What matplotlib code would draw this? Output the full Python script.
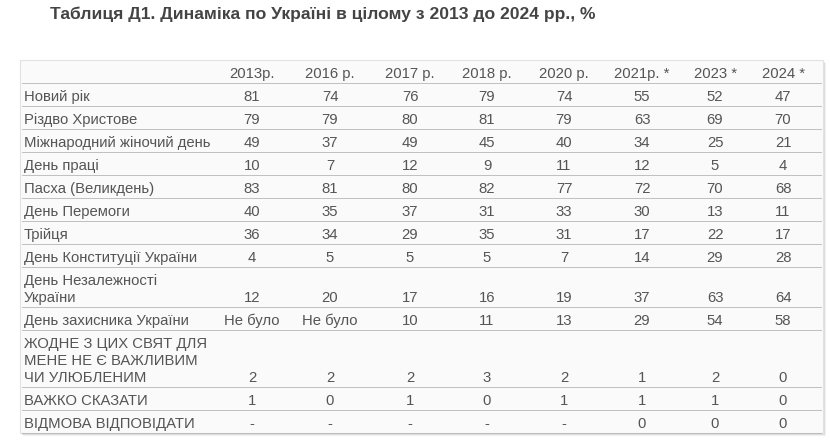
import matplotlib
matplotlib.use("Agg")
import matplotlib.pyplot as plt
from matplotlib.patches import Rectangle

# === Données ===
title = "Таблиця Д1. Динаміка по Україні в цілому з 2013 до 2024 рр., %"
years = ["2013р.", "2016 р.", "2017 р.", "2018 р.", "2020 р.", "2021р. *", "2023 *", "2024 *"]
holidays = [
    "Новий рік",
    "Різдво Христове",
    "Міжнародний жіночий день",
    "День праці",
    "Пасха (Великдень)",
    "День Перемоги",
    "Трійця",
    "День Конституції України",
    "День Незалежності\nУкраїни",
    "День захисника України",
    "ЖОДНЕ З ЦИХ СВЯТ ДЛЯ\nМЕНЕ НЕ Є ВАЖЛИВИМ\nЧИ УЛЮБЛЕНИМ",
    "ВАЖКО СКАЗАТИ",
    "ВІДМОВА ВІДПОВІДАТИ",
]
# None = "-" (немає даних), "Не було" = свята ще не було
v2013 = [81, 79, 49, 10, 83, 40, 36, 4, 12, "Не було", 2, 1, None]
v2016 = [74, 79, 37, 7, 81, 35, 34, 5, 20, "Не було", 2, 0, None]
v2017 = [76, 80, 49, 12, 80, 37, 29, 5, 17, 10, 2, 1, None]
v2018 = [79, 81, 45, 9, 82, 31, 35, 5, 16, 11, 3, 0, None]
v2020 = [74, 79, 40, 11, 77, 33, 31, 7, 19, 13, 2, 1, None]
v2021 = [55, 63, 34, 12, 72, 30, 17, 14, 37, 29, 1, 1, 0]
v2023 = [52, 69, 25, 5, 70, 13, 22, 29, 63, 54, 2, 1, 0]
v2024 = [47, 70, 21, 4, 68, 11, 17, 28, 64, 58, 0, 0, 0]
columns = [v2013, v2016, v2017, v2018, v2020, v2021, v2023, v2024]

# === Mise en page (pixels) ===
W, H = 830, 441
box_left, box_right, box_top = 20, 823, 60
row_h, line_h, pad_bottom = 23, 17, 5
label_x = 24
col_x = [252, 330, 410, 487, 564, 642, 715, 783]
txt_color = "#555555"
font = dict(family=["Liberation Sans", "DejaVu Sans"], size=10.7, color=txt_color)

fig = plt.figure(figsize=(W / 100, H / 100), dpi=100)
ax = fig.add_axes([0, 0, 1, 1])
ax.set_xlim(0, W)
ax.set_ylim(H, 0)
ax.axis("off")


def fmt(v):
    if v is None:
        return "-"
    return str(v)


# hauteurs des lignes
heights = [row_h] + [row_h + line_h * (lbl.count("\n")) for lbl in holidays]
bounds = [box_top]
for h in heights:
    bounds.append(bounds[-1] + h)
box_bottom = bounds[-1]

# ombre + fond du tableau
for off, a in [(3, 0.10), (2, 0.15), (1, 0.25)]:
    ax.add_patch(Rectangle((box_left + off, box_top + off), box_right - box_left, box_bottom - box_top,
                           facecolor="#777777", edgecolor="none", alpha=a, zorder=0))
ax.add_patch(Rectangle((box_left, box_top), box_right - box_left, box_bottom - box_top,
                       facecolor="#fafafa", edgecolor="#e2e2e2", lw=0.8, zorder=1))

# lignes pointillées
for y in bounds[1:-1]:
    ax.plot([box_left + 2, box_right - 1], [y, y], color="#8a8a8a", lw=0.72,
            linestyle=(0, (1, 1)), zorder=2)
ax.plot([box_left + 2, box_right - 1], [box_bottom, box_bottom], color="#999999", lw=0.72,
        linestyle=(0, (1, 1)), zorder=3)

# titre
ax.text(50, 19.5, title, family=["Liberation Sans", "DejaVu Sans"], fontweight="bold",
        fontsize=12.6, color="#444444", va="baseline", ha="left")

# en-tête
base = bounds[1] - pad_bottom
for x, yr in zip(col_x, years):
    ax.text(x, base, yr, ha="center", va="baseline", **font)

# lignes de données
for i, lbl in enumerate(holidays):
    base = bounds[i + 2] - pad_bottom
    lines = lbl.split("\n")
    for k, ln in enumerate(lines):
        ax.text(label_x, base - line_h * (len(lines) - 1 - k), ln, ha="left", va="baseline", **font)
    for x, col in zip(col_x, columns):
        ax.text(x, base, fmt(col[i]), ha="center", va="baseline", **font)

fig.savefig("out.png", dpi=100)
